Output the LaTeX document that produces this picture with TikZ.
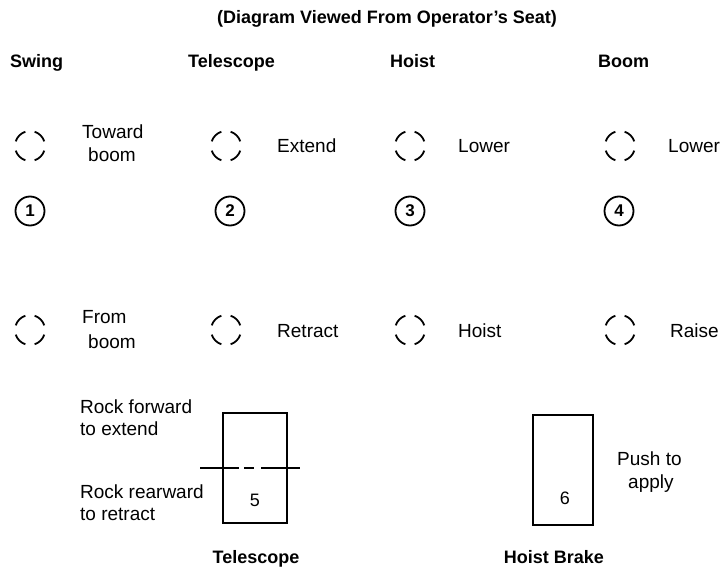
\documentclass[tikz,border=0pt]{standalone}
\usepackage{fontspec}
\setmainfont{Liberation Sans}
\begin{document}
\begin{tikzpicture}[x=1pt,y=-1pt,
  hdr/.style={font=\fontsize{18}{21}\selectfont\bfseries, inner sep=0pt},
  lbl/.style={font=\fontsize{19}{22}\selectfont, inner sep=0pt, anchor=base west},
  posmark/.style={circle, minimum size=30pt, inner sep=0pt},
  numc/.style={circle, draw, line width=1.8pt, minimum size=29pt, inner sep=0pt, font=\fontsize{17}{19}\selectfont\bfseries},
  lever/.style={draw, line width=2pt},
  arcline/.style={line width=1.8pt},
  cutline/.style={line width=1.8pt}]
\useasboundingbox (0,0) rectangle (724,572);
% title and headers
\node[hdr, anchor=base] (title) at (387,24) {(Diagram Viewed From Operator’s Seat)};
\node[hdr, anchor=base west] (hswing) at (10,68) {Swing};
\node[hdr, anchor=base west] (htele) at (188,68) {Telescope};
\node[hdr, anchor=base west] (hhoist) at (390,68) {Hoist};
\node[hdr, anchor=base west] (hboom) at (598,68) {Boom};
% upper positions
\node[posmark] (s1) at (30,146) {};
\node[posmark] (t1) at (226,146) {};
\node[posmark] (h1) at (410,146) {};
\node[posmark] (b1) at (620,146) {};
% lower positions
\node[posmark] (s2) at (30,330) {};
\node[posmark] (t2) at (226,330) {};
\node[posmark] (h2) at (410,330) {};
\node[posmark] (b2) at (620,330) {};
\foreach \n in {s1,t1,h1,b1,s2,t2,h2,b2}
  \foreach \a in {18,108,198,288}
    \draw[arcline] ([shift={(\a:15)}]\n.center) arc[start angle=\a, end angle=\a+54, radius=15];
% labels
\node[lbl] (tw) at (82,139) {Toward};
\node[lbl] (twb) at (88,162) {boom};
\node[lbl] (ext) at (277,153) {Extend};
\node[lbl] (hlow) at (458,153) {Lower};
\node[lbl] (blow) at (668,153) {Lower};
\node[lbl] (fr) at (82,324) {From};
\node[lbl] (frb) at (88,349) {boom};
\node[lbl] (ret) at (277,338) {Retract};
\node[lbl] (hh) at (458,338) {Hoist};
\node[lbl] (br) at (670,338) {Raise};
% numbered controls
\node[numc] (n1) at (30,211) {1};
\node[numc] (n2) at (230,211) {2};
\node[numc] (n3) at (410,211) {3};
\node[numc] (n4) at (619,211) {4};
% telescope pedal
\node[lever, minimum width=64pt, minimum height=110pt, inner sep=0pt] (p5) at (255,468) {};
\node[font=\fontsize{18}{20}\selectfont, inner sep=0pt, anchor=base] (l5) at (255,506) {5};
\coordinate (dl) at (200,468);
\coordinate (dr) at (300,468);
\draw[cutline] (dl) -- (p5.west) -- ++(17,0);
\draw[cutline] ([xshift=-11pt]p5.center) -- ++(10,0);
\draw[cutline] ([xshift=6pt]p5.center) -- (p5.east) -- (dr);
\node[lbl] (rf1) at (80,414) {Rock forward};
\node[lbl] (rf2) at (80,436) {to extend};
\node[lbl] (rr1) at (80,498) {Rock rearward};
\node[lbl] (rr2) at (80,520) {to retract};
\node[hdr, anchor=base] (ftele) at (256,563) {Telescope};
% hoist brake
\node[lever, minimum width=60pt, minimum height=110pt, inner sep=0pt] (p6) at (563,470) {};
\node[font=\fontsize{18}{20}\selectfont, inner sep=0pt, anchor=base] (l6) at (565,504) {6};
\node[lbl] (pt1) at (617,466) {Push to};
\node[lbl] (pt2) at (628,489) {apply};
\node[hdr, anchor=base] (fbrake) at (554,563) {Hoist Brake};
\end{tikzpicture}
\end{document}
